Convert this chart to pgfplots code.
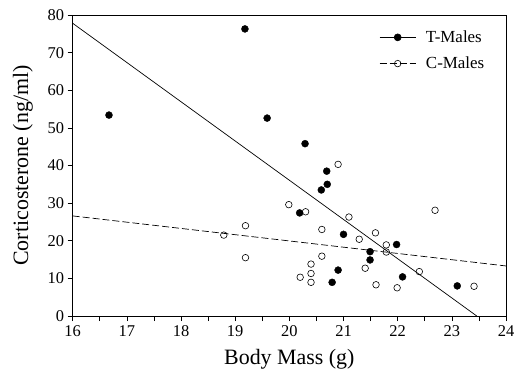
\documentclass[border=0pt]{standalone}
\usepackage{fontspec}
\setmainfont{Liberation Serif}
\usepackage{pgfplots}
\pgfplotsset{compat=1.18}
\begin{document}
\begin{tikzpicture}
\begin{axis}[
  name=ax,
  scale only axis,
  width=433.3bp, height=301bp,
  xmin=16, xmax=24, ymin=0, ymax=80,
  xtick={16,17,...,24},
  minor x tick num=1,
  ytick={0,10,...,80},
  tick align=outside,
  xtick pos=bottom, ytick pos=left,
  major tick length=5bp, minor tick length=5bp,
  every tick/.style={black, line width=0.6pt},
  axis line style={line width=0.7pt},
  /pgf/number format/assume math mode=true,
  ticklabel style={font=\fontsize{16.5}{18}\selectfont},
  xticklabel style={yshift=-1bp},
  xlabel={Body Mass (g)},
  ylabel={Corticosterone (ng/ml)},
  label style={font=\fontsize{22}{24}\selectfont},
  xlabel style={yshift=-6bp},
  ylabel style={yshift=8bp},
  clip=false,
  legend style={at={(0.955,0.955)}, anchor=north east, draw=none, fill=none,
    font=\fontsize{17}{19}\selectfont, row sep=9bp, inner sep=0pt,
    /tikz/every odd column/.append style={column sep=8bp}},
  legend cell align=left,
  legend image code/.code={\draw[mark repeat=2,mark phase=2,#1] plot coordinates {(0cm,0cm) (0.635cm,0cm) (1.27cm,0cm)};},
]
\addlegendimage{black, line width=0.6pt, mark=*, mark size=3.5bp, mark options={solid, fill=black}}
\addlegendentry{T-Males}
\addlegendimage{black, line width=0.6pt, dash pattern=on 7bp off 3bp, mark=o, mark size=3.3bp, mark options={solid}}
\addlegendentry{C-Males}

% regression lines
\addplot[black, line width=0.7pt, forget plot] coordinates {(16,77.8) (23.46,0)};
\addplot[black, line width=0.7pt, dash pattern=on 7bp off 3bp, forget plot] coordinates {(16,26.6) (24,13.3)};

% T-Males
\addplot[only marks, mark=*, mark size=3.5bp, black, forget plot] coordinates {
(16.67,53.4) (19.18,76.3) (19.59,52.6) (20.29,45.8) (20.69,38.5) (20.70,35.0)
(20.59,33.5) (20.19,27.4) (21.00,21.7) (21.98,19.0) (21.49,17.1) (21.49,14.9)
(20.90,12.2) (20.79,8.95) (22.09,10.4) (23.10,8.0)
};
% C-Males
\addplot[only marks, mark=o, mark size=3.3bp, black, line width=0.6pt, forget plot] coordinates {
(18.79,21.5) (19.19,24.0) (19.19,15.5) (19.99,29.6) (20.30,27.7) (20.90,40.3)
(21.10,26.3) (20.60,23.0) (21.29,20.4) (21.59,22.1) (21.79,18.9) (21.79,17.0)
(20.60,15.9) (20.40,13.8) (20.40,11.3) (20.40,8.95) (20.20,10.3) (21.40,12.7)
(21.60,8.3) (21.99,7.5) (22.40,11.8) (22.69,28.1) (23.41,7.9)
};
\end{axis}
\pgfresetboundingbox
\path ([xshift=-72.7bp,yshift=-66bp]ax.south west) rectangle ([xshift=16bp,yshift=15bp]ax.north east);
\end{tikzpicture}
\end{document}
